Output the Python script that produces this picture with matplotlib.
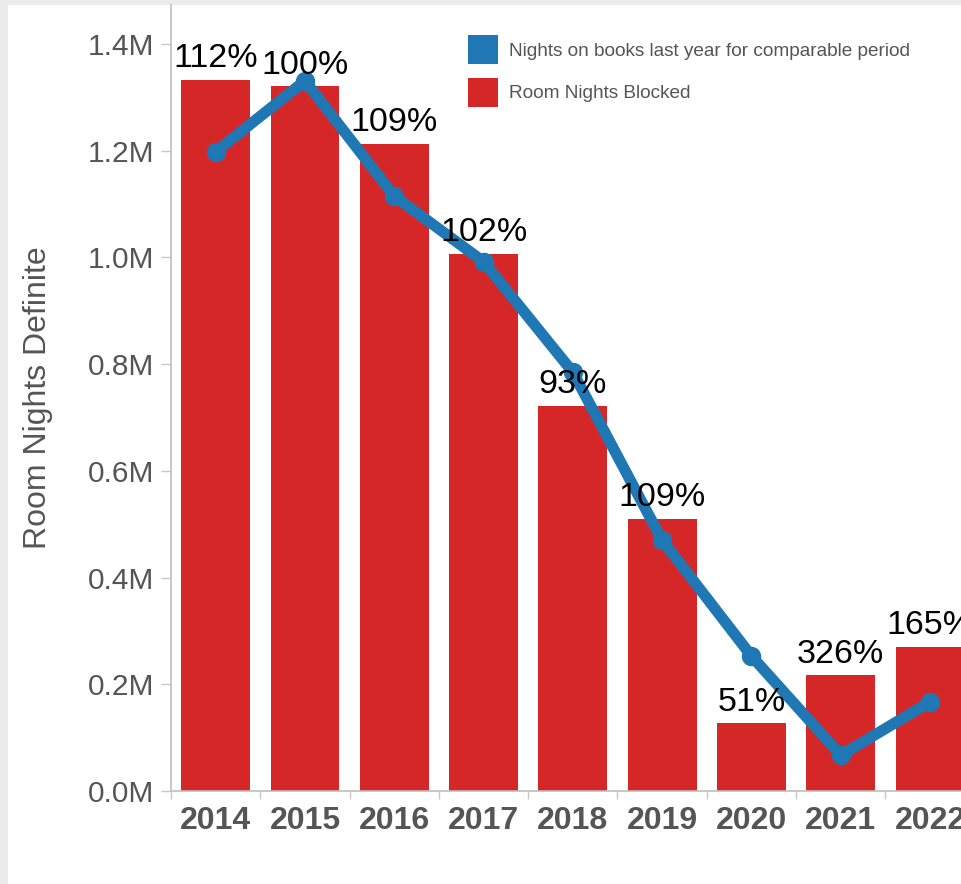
import numpy as np
import matplotlib.pyplot as plt
from matplotlib.patches import Rectangle, Patch
from matplotlib.ticker import FuncFormatter, FixedLocator

plt.rcParams['font.family'] = ['Liberation Sans', 'DejaVu Sans']

years = ['2014', '2015', '2016', '2017', '2018', '2019', '2020', '2021', '2022']
blocked = [1.333, 1.321, 1.213, 1.007, 0.722, 0.510, 0.127, 0.217, 0.270]     # millions
last_year = [1.198, 1.331, 1.115, 0.992, 0.785, 0.470, 0.253, 0.067, 0.167]  # millions
pct_labels = ['112%', '100%', '109%', '102%', '93%', '109%', '51%', '326%', '165%']

red = '#d62728'
blue = '#1f77b4'
grey_txt = '#555555'
grey_line = '#c8c8c8'

W, H = 961, 884
fig = plt.figure(figsize=(W / 100, H / 100), dpi=100, facecolor='#ececec')
# white card behind the chart
fig.patches.append(Rectangle((8 / W, 0), 1, (H - 5) / H, transform=fig.transFigure,
                             facecolor='white', edgecolor='none', zorder=-1))

ax = fig.add_axes([171 / W, (H - 791) / H, 1 - 171 / W, (791 - 5) / H])
ax.set_facecolor('none')

x = np.arange(len(years))
ax.bar(x, blocked, width=0.77, color=red, zorder=2)
ax.plot(x, last_year, color=blue, lw=8, marker='o', ms=13, zorder=3,
        solid_joinstyle='round', solid_capstyle='round')

# percent labels sit above each bar, drawn over the line
for xi, b, lab in zip(x, blocked, pct_labels):
    ax.annotate(lab, (xi, b), xytext=(0, 9), textcoords='offset points',
                ha='center', va='baseline', fontsize=24.5, color='black', zorder=5)

ax.set_xlim(-0.5, -0.5 + (W - 171) / 89.3)
ax.set_ylim(0, 1.4 * (791 - 5) / 747)

ax.set_yticks([0, 0.2, 0.4, 0.6, 0.8, 1.0, 1.2, 1.4])
ax.yaxis.set_major_formatter(FuncFormatter(lambda v, p: f'{v:.1f}M'))
ax.tick_params(axis='y', length=7.5, width=1, color=grey_line, pad=4.3,
               labelsize=21.5, labelcolor=grey_txt)

ax.set_xticks(x)
ax.set_xticklabels(years, fontweight='bold')
ax.tick_params(axis='x', which='major', length=0, pad=11, labelsize=23,
               labelcolor=grey_txt)
ax.xaxis.set_minor_locator(FixedLocator(np.arange(-0.5, len(years) + 0.5, 1)))
ax.tick_params(axis='x', which='minor', length=6, width=1, color=grey_line)

for side in ['top', 'right']:
    ax.spines[side].set_visible(False)
for side in ['left', 'bottom']:
    ax.spines[side].set_color('#bdbdbd')
    ax.spines[side].set_linewidth(1.2)

ax.set_ylabel('Room Nights Definite', fontsize=23, color=grey_txt, labelpad=25)

handles = [Patch(facecolor=blue, edgecolor='none'), Patch(facecolor=red, edgecolor='none')]
leg = fig.legend(handles, ['Nights on books last year for comparable period', 'Room Nights Blocked'],
                 loc='upper left', bbox_to_anchor=(468 / W, 1 - 35 / H), frameon=False,
                 borderpad=0, borderaxespad=0, fontsize=13.7, handlelength=1.58,
                 handleheight=1.97, handletextpad=0.58, labelspacing=0.71)
for t in leg.get_texts():
    t.set_color(grey_txt)

fig.savefig('out.png', dpi=100, facecolor=fig.get_facecolor())
